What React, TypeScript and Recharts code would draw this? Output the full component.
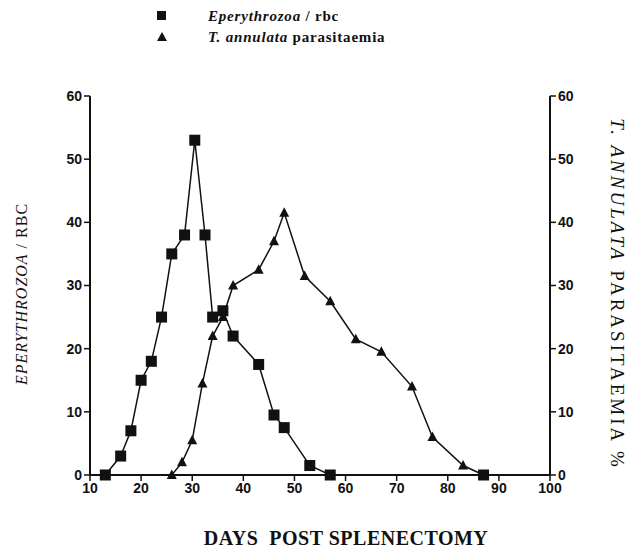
import { LineChart, Line, XAxis, YAxis } from "recharts";

// days post splenectomy and counts
const eperyDays = [13, 16, 18, 20, 22, 24, 26, 28.5, 30.5, 32.5, 34, 36, 38, 43, 46, 48, 53, 57, 87];
const eperyRbc = [0, 3, 7, 15, 18, 25, 35, 38, 53, 38, 25, 26, 22, 17.5, 9.5, 7.5, 1.5, 0, 0];

const annulataDays = [26, 28, 30, 32, 34, 36, 38, 43, 46, 48, 52, 57, 62, 67, 73, 77, 83, 87];
const annulataPct = [0, 2, 5.5, 14.5, 22, 25, 30, 32.5, 37, 41.5, 31.5, 27.5, 21.5, 19.5, 14, 6, 1.5, 0];

const xTicks = [10, 20, 30, 40, 50, 60, 70, 80, 90, 100];
const yTicks = [0, 10, 20, 30, 40, 50, 60];

const eperyData = eperyDays.map((d, i) => ({ day: d, value: eperyRbc[i] }));
const annulataData = annulataDays.map((d, i) => ({ day: d, value: annulataPct[i] }));

const tickStyle = { fill: "#111", fontSize: 14, fontWeight: 700, fontFamily: "Liberation Sans, Arial, sans-serif" };

const Square = (props: any) => {
  const { cx, cy, index } = props;
  if (cx == null || cy == null) return null;
  return <rect key={"s" + index} x={cx - 5.5} y={cy - 5.5} width={11} height={11} fill="#111" />;
};

const Triangle = (props: any) => {
  const { cx, cy, index } = props;
  if (cx == null || cy == null) return null;
  return (
    <polygon
      key={"t" + index}
      points={`${cx},${cy - 5.5} ${cx - 5},${cy + 4} ${cx + 5},${cy + 4}`}
      fill="#111"
    />
  );
};

const serif = "Liberation Serif, Times New Roman, serif";

export default function App() {
  return (
    <div style={{ position: "absolute", left: 0, top: 0, width: 630, height: 550, background: "#fff", fontFamily: serif }}>
      {/* legend */}
      <svg width={630} height={50} style={{ position: "absolute", left: 0, top: 0 }}>
        <rect x={157} y={11} width={9} height={9} fill="#111" />
        <polygon points="162,32 157,41 167,41" fill="#111" />
        <text x={208} y={21} fontFamily={serif} fontSize={15} fontWeight={700} letterSpacing={0.8} fill="#111">
          <tspan fontStyle="italic">Eperythrozoa</tspan> / rbc
        </text>
        <text x={208} y={42} fontFamily={serif} fontSize={15} fontWeight={700} letterSpacing={0.8} fill="#111">
          <tspan fontStyle="italic">T. annulata</tspan> parasitaemia
        </text>
      </svg>

      <div style={{ position: "absolute", left: 0, top: 0 }}>
        <LineChart width={630} height={550} margin={{ top: 96, right: 40, bottom: 45, left: 50 }}>
          <XAxis
            dataKey="day"
            type="number"
            domain={[10, 100]}
            ticks={xTicks}
            allowDuplicatedCategory={false}
            height={30}
            tick={tickStyle}
            axisLine={{ stroke: "#111", strokeWidth: 2 }}
            tickLine={{ stroke: "#111", strokeWidth: 1.5 }}
          />
          <YAxis
            yAxisId="left"
            domain={[0, 60]}
            ticks={yTicks}
            width={40}
            tick={tickStyle}
            axisLine={{ stroke: "#111", strokeWidth: 2 }}
            tickLine={{ stroke: "#111", strokeWidth: 1.5 }}
          />
          <YAxis
            yAxisId="right"
            orientation="right"
            domain={[0, 60]}
            ticks={yTicks}
            width={40}
            tick={tickStyle}
            axisLine={{ stroke: "#111", strokeWidth: 2 }}
            tickLine={{ stroke: "#111", strokeWidth: 1.5 }}
          />
          <Line
            yAxisId="left"
            data={eperyData}
            dataKey="value"
            type="linear"
            stroke="#111"
            strokeWidth={1.5}
            dot={Square}
            activeDot={false}
            isAnimationActive={false}
          />
          <Line
            yAxisId="right"
            data={annulataData}
            dataKey="value"
            type="linear"
            stroke="#111"
            strokeWidth={1.5}
            dot={Triangle}
            activeDot={false}
            isAnimationActive={false}
          />
        </LineChart>
      </div>

      {/* axis titles */}
      <div
        style={{
          position: "absolute",
          left: 22,
          top: 294,
          transform: "translate(-50%, -50%) rotate(-90deg)",
          whiteSpace: "nowrap",
          fontSize: 16,
          letterSpacing: 1,
          color: "#111",
        }}
      >
        <i>EPERYTHROZOA</i> / RBC
      </div>
      <div
        style={{
          position: "absolute",
          left: 617,
          top: 294,
          transform: "translate(-50%, -50%) rotate(90deg)",
          whiteSpace: "nowrap",
          fontSize: 19,
          letterSpacing: 3,
          color: "#111",
        }}
      >
        <i>T. ANNULATA</i> PARASITAEMIA %
      </div>
      <div
        style={{
          position: "absolute",
          left: 346,
          top: 538,
          transform: "translate(-50%, -50%)",
          whiteSpace: "pre",
          fontSize: 20,
          letterSpacing: 0.5,
          fontWeight: 700,
          color: "#111",
        }}
      >
        {"DAYS  POST SPLENECTOMY"}
      </div>
    </div>
  );
}
